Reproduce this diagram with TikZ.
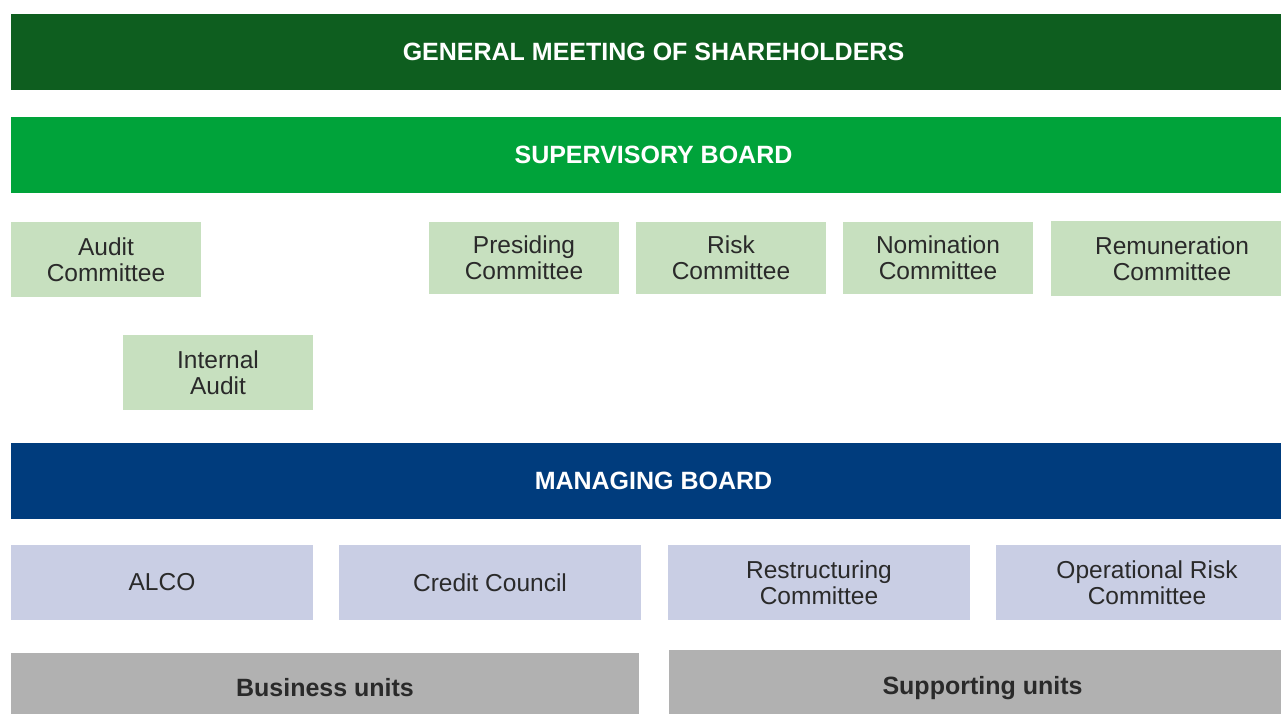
\documentclass[tikz,border=0pt]{standalone}
\usepackage{fontspec}
\setmainfont{Liberation Sans}
\usepackage{tikz}

\definecolor{gmgreen}{HTML}{0E5E1F}
\definecolor{sbgreen}{HTML}{00A33A}
\definecolor{paleg}{HTML}{C7E0BF}
\definecolor{mbblue}{HTML}{003C7D}
\definecolor{paleb}{HTML}{C9CEE4}
\definecolor{unitgray}{HTML}{B1B1B1}
\definecolor{txt}{HTML}{2A2A2A}

\begin{document}
\begin{tikzpicture}[
  x=1pt,y=-1pt,
  box/.style={inner sep=0pt,align=center,text=txt,
    font=\fontsize{24.5}{26}\selectfont},
  header/.style={box,text=white,minimum width=1285pt,minimum height=76pt,
    font=\fontsize{25}{26}\selectfont\bfseries},
  svcomm/.style={box,fill=paleg},
  mbcomm/.style={box,fill=paleb,minimum width=302pt,minimum height=75pt},
  unit/.style={box,fill=unitgray,minimum height=70pt,
    font=\fontsize{25}{26}\selectfont\bfseries}]
\useasboundingbox (0,0) rectangle (1281,714);
% boards
\node[header,fill=gmgreen] (gm) at (653.5,52) {GENERAL MEETING OF SHAREHOLDERS};
\node[header,fill=sbgreen] (sb) at (653.5,155) {SUPERVISORY BOARD};
\node[header,fill=mbblue] (mb) at (653.5,481) {MANAGING BOARD};
% supervisory board committees
\node[svcomm,minimum width=190pt,minimum height=75pt] (ac) at (106,259.5)
  {Audit\\Committee};
\node[svcomm,minimum width=190pt,minimum height=72pt] (pc) at (524,258)
  {Presiding\\Committee};
\node[svcomm,minimum width=190pt,minimum height=72pt] (rc) at (731,258)
  {Risk\\Committee};
\node[svcomm,minimum width=190pt,minimum height=72pt] (nc) at (938,258)
  {Nomination\\Committee};
\node[svcomm,minimum width=242pt,minimum height=75pt] (remc) at (1172,258.5)
  {Remuneration\\Committee};
\node[svcomm,minimum width=190pt,minimum height=75pt] (ia) at (218,372.5)
  {Internal\\Audit};
% managing board committees
\node[mbcomm] (alco) at (162,582.5) {ALCO};
\node[mbcomm] (cc) at (490,582.5) {Credit Council};
\node[mbcomm] (rsc) at (819,582.5) {Restructuring\\Committee};
\node[mbcomm] (orc) at (1147,582.5) {Operational Risk\\Committee};
% units
\node[unit,minimum width=628pt] (bu) at (325,687.5) {Business units};
\node[unit,minimum width=627pt,minimum height=76pt] (su) at (982.5,688)
  {Supporting units};
\end{tikzpicture}
\end{document}
